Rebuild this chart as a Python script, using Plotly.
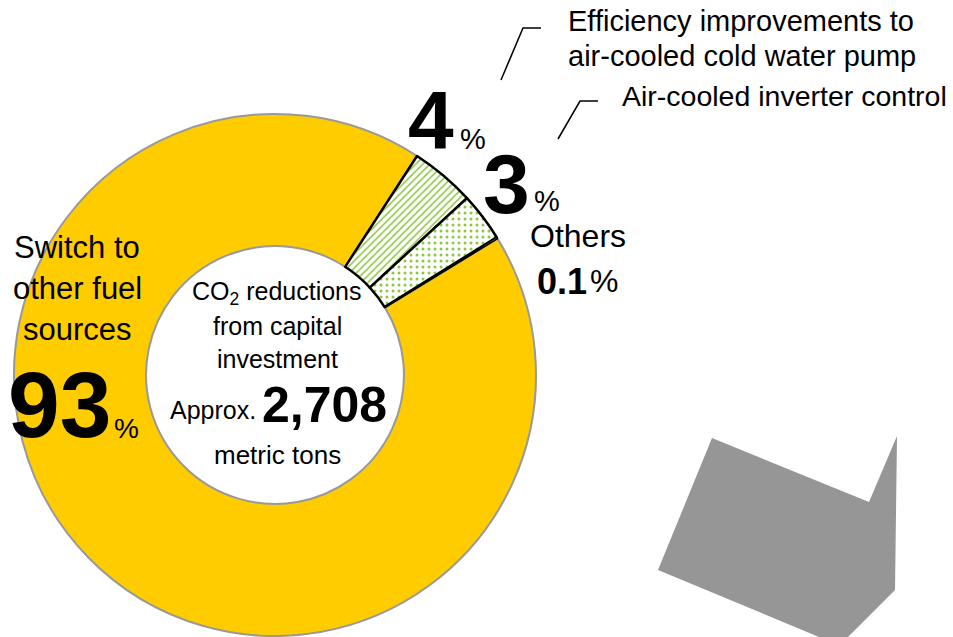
import plotly.graph_objects as go

W, H = 953, 637

# Share of CO2 reductions from capital investment (%)
categories = [
    "Switch to other fuel sources",
    "Efficiency improvements to air-cooled cold water pump",
    "Air-cooled inverter control",
    "Others",
]
shares = [93, 4, 3, 0.1]
total_tons = "2,708"

slice_colors = ["#FFCC00", "white", "white", "white"]
pattern_shapes = ["", "/", ".", ""]
pattern_sizes = [5, 5, 6, 5]
pattern_solidity = [0.3, 0.3, 0.2, 0.3]
line_colors = ["#999999", "black", "black", "black"]
line_widths = [2, 2.5, 2.5, 1.5]

FONT = "Liberation Sans, Arial, sans-serif"
GREEN = "#8DC63F"


def px(x):
    return x / W


def py(y):
    return 1 - y / H


fig = go.Figure()

fig.add_trace(go.Pie(
    labels=categories,
    values=shares,
    sort=False,
    direction="clockwise",
    rotation=58.5,
    hole=0.494,
    textinfo="none",
    hoverinfo="label+percent",
    showlegend=False,
    domain=dict(x=[px(14), px(536)], y=[py(636), py(114)]),
    marker=dict(
        colors=slice_colors,
        line=dict(color=line_colors, width=line_widths),
        pattern=dict(
            shape=pattern_shapes,
            fgcolor=GREEN,
            bgcolor="white",
            size=pattern_sizes,
            solidity=pattern_solidity,
        ),
    ),
))

annotations = []


def label(text, x, y, size, bold=False, xanchor="center", yanchor="middle"):
    if bold:
        text = f"<b>{text}</b>"
    annotations.append(dict(
        text=text, x=px(x), y=py(y), xref="paper", yref="paper",
        xanchor=xanchor, yanchor=yanchor, showarrow=False,
        font=dict(family=FONT, size=size, color="black"),
    ))


# Left: main category
label("Switch to", 77, 247, 31)
label("other fuel", 77, 288, 31)
label("sources", 77, 330, 31)
label(f"{shares[0]}", 6, 405, 93, bold=True, xanchor="left")
label("%", 112, 428, 28, xanchor="left")

# Top: the two smaller categories
label(f"{shares[1]}", 406, 119, 82, bold=True, xanchor="left")
label("%", 458, 139, 29, xanchor="left")
label(f"{shares[2]}", 481, 184, 84, bold=True, xanchor="left")
label("%", 532, 201, 29, xanchor="left")

# Others
label("Others", 578, 236, 32)
label(f"{shares[3]}", 535, 281, 36, bold=True, xanchor="left")
label("%", 588, 281, 32, xanchor="left")

# Centre of the ring
label("CO<sub>2</sub> reductions", 277, 293, 25)
label("from capital", 277, 326, 25)
label("investment", 277, 359, 25)
label("Approx.", 168, 410, 25, xanchor="left")
label(total_tons, 260, 405, 50, bold=True, xanchor="left")
label("metric tons", 277, 455, 26)

# Callout texts for the top slices
label("Efficiency improvements to", 566, 21, 29, xanchor="left")
label("air-cooled cold water pump", 566, 56, 29, xanchor="left")
label("Air-cooled inverter control", 620, 96, 28.5, xanchor="left")

shapes = []
# Leader lines
for pts in ([(501, 80), (523, 28), (541, 28)], [(558, 139), (580, 101), (598, 101)]):
    path = "M " + " L ".join(f"{px(x)},{py(y)}" for x, y in pts)
    shapes.append(dict(type="path", path=path, xref="paper", yref="paper",
                       line=dict(color="black", width=1.5)))

# Grey arrow decoration at the lower right
arrow = [(658, 570), (712, 438), (869, 502), (897, 436), (895, 590),
         (848, 637), (819, 637)]
path = "M " + " L ".join(f"{px(x)},{py(y)}" for x, y in arrow) + " Z"
shapes.append(dict(type="path", path=path, xref="paper", yref="paper",
                   fillcolor="#969696", line=dict(width=0), layer="below"))

fig.update_layout(
    width=W, height=H,
    margin=dict(l=0, r=0, t=0, b=0),
    paper_bgcolor="white",
    plot_bgcolor="white",
    annotations=annotations,
    shapes=shapes,
)

fig.write_html("out.html")
